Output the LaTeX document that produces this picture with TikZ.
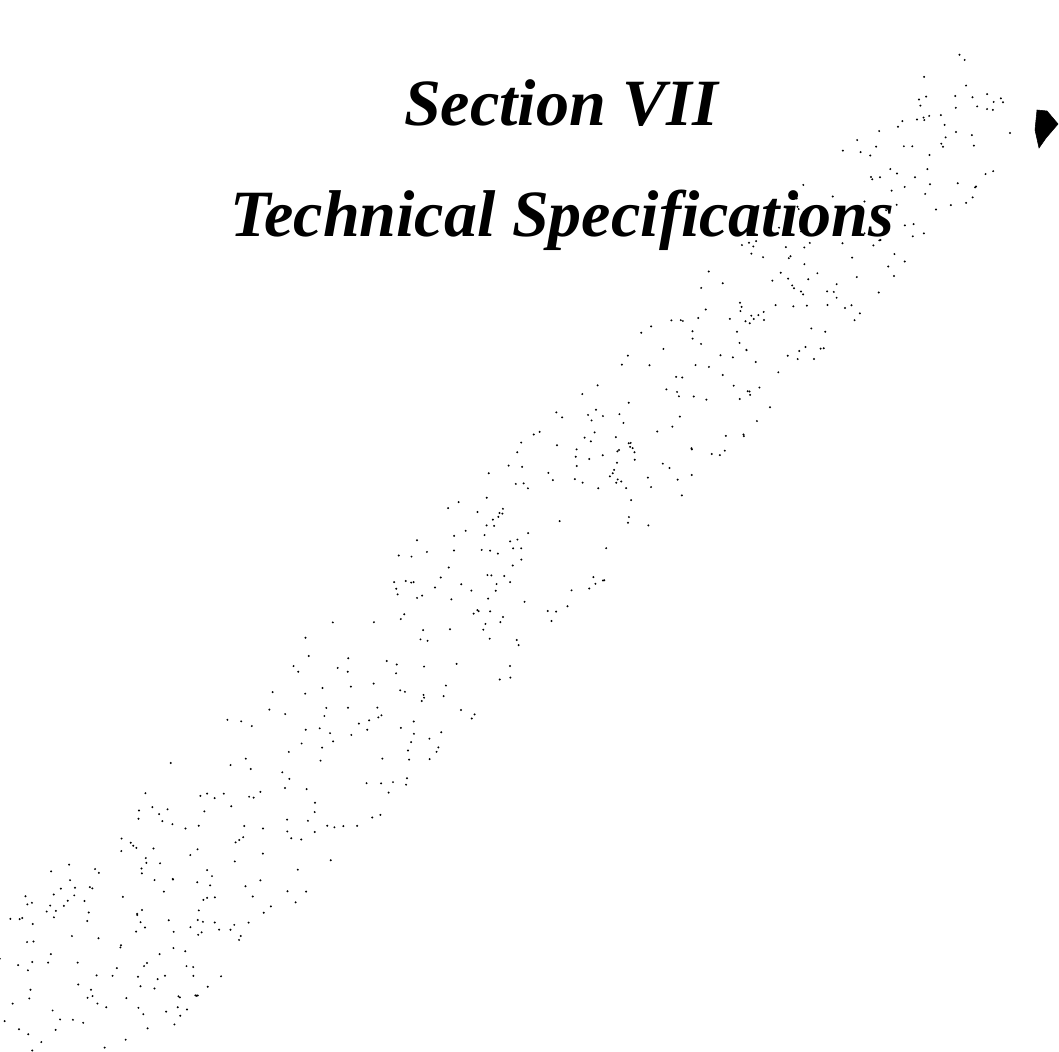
\documentclass[tikz,border=0pt]{standalone}
\usepackage{fontspec}
\setmainfont{Liberation Serif}
\usetikzlibrary{calc}
\tikzset{titletext/.style={font=\fontsize{47}{56}\selectfont\bfseries\itshape, anchor=base, inner sep=0pt}}

\begin{document}
\begin{tikzpicture}[x=0.025cm, y=-0.025cm]
		%%%%% START %%%%%
		
		\useasboundingbox (0, 0) rectangle (1059, 1052);
		
		\node[titletext] (section) at (561, 125) {Section VII};
		\node[titletext] (title) at (562, 236) {Technical Specifications};
		
		% faint scanned watermark along the diagonal
		\pgfmathsetseed{17}
		\foreach \i in {1,...,640} {
			\pgfmathsetmacro{\t}{rnd^1.3}
			\pgfmathsetmacro{\s}{rand*(105 - 45*\t)}
			\fill[black] ({20 + 975*\t + 0.685*\s}, {1040 - 950*\t + 0.729*\s}) circle (1.1);
		}
		
		% speck at the right edge
		\draw[fill=black] (1037, 110) -- (1047, 111) -- (1058, 124) -- (1046, 138) -- (1039, 148) -- (1035, 130) -- cycle;
		
		%%%%% END %%%%%
	\end{tikzpicture}
\end{document}
